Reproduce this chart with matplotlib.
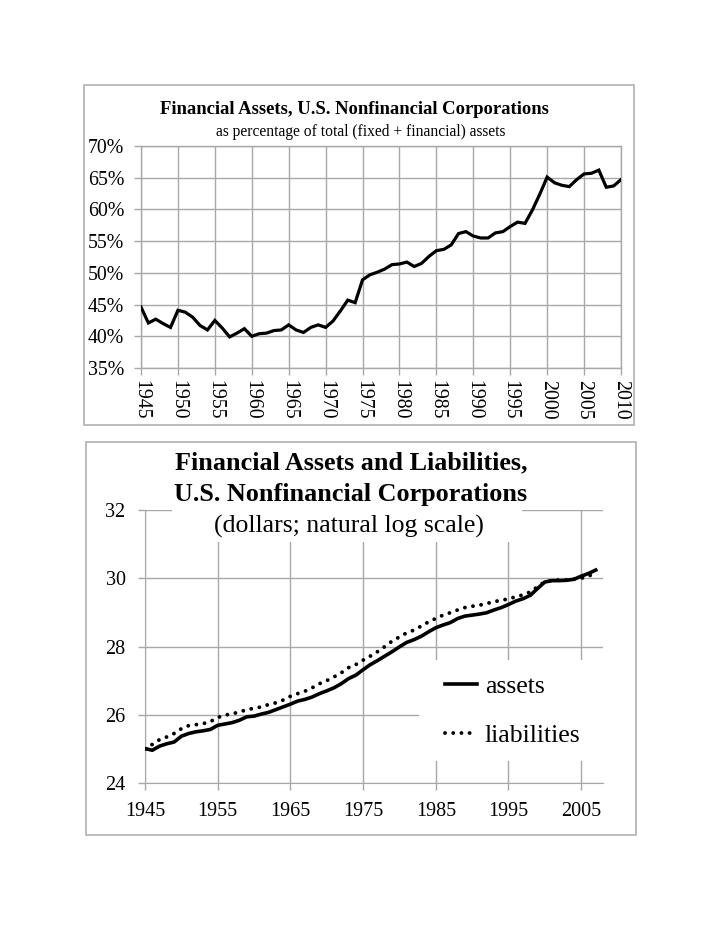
import matplotlib
matplotlib.use("Agg")
import matplotlib.pyplot as plt
from matplotlib.patches import Rectangle
from matplotlib.lines import Line2D

plt.rcParams['font.family'] = ['Liberation Serif', 'DejaVu Serif']

# top chart: financial assets share, 1945-2010
share_years = list(range(1945, 2011))
share_pct = [44.6, 42.1, 42.7, 42.0, 41.4, 44.1, 43.8, 43.0, 41.7, 41.0,
             42.5, 41.3, 39.9, 40.5, 41.2, 40.0, 40.4, 40.5, 40.9, 41.0,
             41.8, 41.0, 40.6, 41.4, 41.8, 41.4, 42.4, 44.0, 45.7, 45.3,
             48.9, 49.7, 50.1, 50.6, 51.3, 51.4, 51.7, 51.0, 51.5, 52.6,
             53.5, 53.7, 54.4, 56.2, 56.5, 55.8, 55.5, 55.5, 56.3, 56.5,
             57.3, 58.0, 57.8, 59.9, 62.4, 65.1, 64.2, 63.8, 63.6, 64.7,
             65.6, 65.7, 66.2, 63.5, 63.7, 64.7]

# bottom chart: log dollars, 1945-2007
log_years = list(range(1945, 2008))
assets = [25.01, 24.96, 25.08, 25.15, 25.20, 25.37, 25.45, 25.50, 25.53, 25.57,
          25.69, 25.73, 25.77, 25.84, 25.94, 25.96, 26.02, 26.07, 26.15, 26.23,
          26.31, 26.40, 26.45, 26.52, 26.62, 26.70, 26.79, 26.91, 27.06, 27.16,
          27.32, 27.47, 27.59, 27.72, 27.85, 27.99, 28.12, 28.20, 28.30, 28.43,
          28.55, 28.63, 28.70, 28.82, 28.89, 28.92, 28.95, 28.99, 29.07, 29.14,
          29.23, 29.33, 29.40, 29.50, 29.70, 29.89, 29.93, 29.93, 29.94, 29.97,
          30.06, 30.14, 30.24]
liabilities = [25.00, 25.13, 25.27, 25.35, 25.45, 25.59, 25.68, 25.71, 25.74, 25.80,
               25.92, 25.99, 26.03, 26.08, 26.15, 26.19, 26.23, 26.30, 26.35, 26.43,
               26.54, 26.62, 26.69, 26.79, 26.91, 27.00, 27.11, 27.23, 27.38, 27.47,
               27.60, 27.72, 27.85, 28.00, 28.16, 28.28, 28.40, 28.48, 28.60, 28.72,
               28.82, 28.92, 28.99, 29.07, 29.14, 29.18, 29.21, 29.26, 29.31, 29.36,
               29.39, 29.46, 29.51, 29.60, 29.75, 29.90, 29.93, 29.95, 29.95, 29.97,
               30.00, 30.06, 30.16]

grid_c = '#a8a8a8'
W, H = 720, 932
dots = (0, (0.01, 2.1))

fig = plt.figure(figsize=(7.2, 9.32), dpi=100)

def frac_box(x0, y0, x1, y1):
    return [x0 / W, 1 - y1 / H, (x1 - x0) / W, (y1 - y0) / H]

# outer frames
for x0, y0, x1, y1 in [(84, 85, 634, 425), (86, 442, 636, 835)]:
    b = frac_box(x0, y0, x1, y1)
    fig.patches.append(Rectangle((b[0], b[1]), b[2], b[3], transform=fig.transFigure,
                                 facecolor='none', edgecolor='#b0b0b0', lw=1.2))

# ---- top chart ----
ax1 = fig.add_axes(frac_box(141, 146, 621, 368))
ax1.plot(share_years, share_pct, color='black', lw=2.3, solid_joinstyle='miter', zorder=3)
ax1.set_xlim(1945, 2010)
ax1.set_ylim(35, 70)
ax1.set_xticks(range(1945, 2011, 5))
ax1.set_yticks(range(35, 71, 5))
ax1.set_yticklabels([f'{v}%' for v in range(35, 71, 5)])
ax1.tick_params(axis='x', labelrotation=-90, pad=4)
ax1.tick_params(axis='y', pad=7)
ax1.tick_params(colors=grid_c, labelcolor='black', labelsize=14.3, length=5, width=1)
ax1.grid(True, color=grid_c, lw=1)
for s in ax1.spines.values():
    s.set_color(grid_c)
    s.set_linewidth(1)
fig.text(354 / W, 1 - 110 / H, 'Financial Assets, U.S. Nonfinancial Corporations',
         ha='center', va='center', fontsize=13.4, fontweight='bold')
fig.text(361 / W, 1 - 132 / H, 'as percentage of total (fixed + financial) assets',
         ha='center', va='center', fontsize=11.2)

# ---- bottom chart ----
ax2 = fig.add_axes(frac_box(145, 510, 603, 783))
ax2.plot(log_years, assets, color='black', lw=2.6, zorder=3, label='assets')
ax2.plot(log_years, liabilities, color='black', lw=2.8, linestyle=dots,
         dash_capstyle='round', zorder=3, label='liabilities')
ax2.set_xlim(1945, 2008)
ax2.set_ylim(24, 32)
ax2.set_xticks(range(1945, 2006, 10))
ax2.set_yticks(range(24, 33, 2))
ax2.tick_params(axis='x', pad=9)
ax2.tick_params(axis='y', pad=9)
ax2.tick_params(colors=grid_c, labelcolor='black', labelsize=14.5, length=5, width=1)
ax2.grid(True, color=grid_c, lw=1)
ax2.spines['top'].set_visible(False)
ax2.spines['right'].set_visible(False)
ax2.spines['left'].set_color(grid_c)
ax2.spines['bottom'].set_color(grid_c)

# white box behind the title, hiding gridlines
ax2.add_patch(Rectangle(((172 - 145) / 458, (783 - 542) / 273), (522 - 172) / 458, 0.2,
                        transform=ax2.transAxes, facecolor='white', edgecolor='none',
                        clip_on=False, zorder=2))
fig.text(351 / W, 1 - 463 / H, 'Financial Assets and Liabilities,', ha='center', va='center',
         fontsize=18.8, fontweight='bold')
fig.text(351 / W, 1 - 494 / H, 'U.S. Nonfinancial Corporations', ha='center', va='center',
         fontsize=18.8, fontweight='bold')
fig.text(349 / W, 1 - 526 / H, '(dollars; natural log scale)', ha='center', va='center',
         fontsize=18.5)

# legend box
ax2.add_patch(Rectangle(((419 - 145) / 458, (783 - 761) / 273), 0.45, (761 - 660) / 273,
                        transform=ax2.transAxes, facecolor='white', edgecolor='none',
                        clip_on=False, zorder=2))
handles = [Line2D([], [], color='black', lw=2.6),
           Line2D([], [], color='black', lw=2.8, linestyle=dots, dash_capstyle='round')]
leg = ax2.legend(handles, ['assets', 'liabilities'], loc='center left',
                 bbox_to_anchor=((445 - 145) / 458, (783 - 711) / 273),
                 frameon=False, fontsize=18.5, handlelength=1.25, handletextpad=0.3,
                 labelspacing=1.05, borderpad=0, borderaxespad=0)
leg.set_zorder(5)

fig.savefig('out.png', dpi=100, facecolor='white')
